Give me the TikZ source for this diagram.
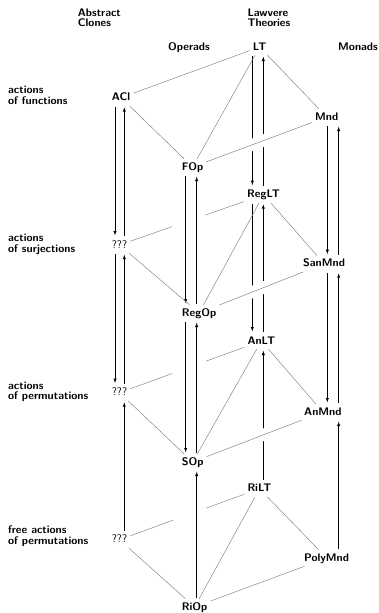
\documentclass[tikz,border=0pt]{standalone}
\usepackage{tikz}
\usetikzlibrary{arrows, positioning, calc}
\tikzstyle{arrow} = [->, >=latex, line width=0.5pt, shorten <=1pt, shorten >=1.5pt]
\tikzstyle{link} = [draw=black!55, line width=0.4pt]
\tikzstyle{front-link} = [link, preaction={draw=white, line width=12pt}]
\tikzstyle{obj} = [anchor=base west, inner sep=3pt, text height=8pt, text depth=2pt, font={\sffamily\bfseries\fontsize{11}{13}\selectfont}]
\tikzstyle{unknown} = [obj, font={\sffamily\fontsize{11}{13}\selectfont}]
\tikzstyle{hole} = [circle, minimum size=35pt, inner sep=0pt]
\tikzstyle{label} = [anchor=base west, inner sep=0pt, align=left, font={\sffamily\bfseries\fontsize{11}{10.7}\selectfont}]

\begin{document}
\begin{tikzpicture}[x=1pt, y=-1pt]
  \useasboundingbox (0, 0) rectangle (379, 613);

  % Headings
  \node[label] (clones) at (77.7, 26.7) {Abstract\\Clones};
  \node[label] (lawvere) at (247.3, 26.7) {Lawvere\\Theories};
  \node[label] (operads) at (168, 50) {Operads};
  \node[label] (monads) at (338, 50) {Monads};

  \node[label] (row_fun) at (8, 104.5) {actions\\of functions};
  \node[label] (row_surj) at (8, 252.3) {actions\\of surjections};
  \node[label] (row_perm) at (8, 399.8) {actions\\of permutations};
  \node[label] (row_free) at (8, 544) {free actions\\of permutations};

  % Abstract clones
  \node[obj] (acl) at (108.7, 100.7) {ACl};
  \node[unknown] (q_surj) at (108.7, 248) {???};
  \node[unknown] (q_perm) at (108.7, 395.7) {???};
  \node[unknown] (q_free) at (108.7, 542.7) {???};

  % Operads
  \node[obj] (f_op) at (178.7, 170) {FOp};
  \node[obj] (reg_op) at (178.7, 316) {RegOp};
  \node[obj] (s_op) at (178.7, 465) {SOp};
  \node[obj] (ri_op) at (178.7, 610) {RiOp};

  % Lawvere theories
  \node[obj] (lt) at (249.7, 50) {LT};
  \node[obj] (reg_lt) at (244, 197.7) {RegLT};
  \node[obj] (an_lt) at (244.3, 344) {AnLT};
  \node[obj] (ri_lt) at (244.3, 491.7) {RiLT};

  % Monads
  \node[obj] (mnd) at (312, 120) {Mnd};
  \node[obj] (san_mnd) at (300, 266.7) {SanMnd};
  \node[obj] (an_mnd) at (301, 415) {AnMnd};
  \node[obj] (poly_mnd) at (301, 561) {PolyMnd};

  % columns of the vertical arrows
  \coordinate (cl_down) at (115, 0);
  \coordinate (cl_up) at (124.3, 0);
  \coordinate (op_down) at (185.7, 0);
  \coordinate (op_up) at (196.7, 0);
  \coordinate (lt_down) at (252.3, 0);
  \coordinate (lt_up) at (263.3, 0);
  \coordinate (mnd_down) at (327.3, 0);
  \coordinate (mnd_up) at (338.7, 0);

  % Back edges, broken behind the operads
  \node[hole] (gap_surj) at ($(q_surj)!0.48!(reg_lt)$) {};
  \node[hole] (gap_perm) at ($(q_perm)!0.49!(an_lt)$) {};
  \node[hole] (gap_free) at ($(q_free)!0.5!(ri_lt)$) {};

  \draw[link] (q_surj) -- (gap_surj);
  \draw[link] (gap_surj) -- (reg_lt);
  \draw[link] (q_perm) -- (gap_perm);
  \draw[link] (gap_perm) -- (an_lt);
  \draw[link] (q_free) -- (gap_free);
  \draw[link] (gap_free) -- (ri_lt);

  % Vertical arrows
  \draw[arrow] (acl.south -| cl_down) -- (q_surj.north -| cl_down);
  \draw[arrow] (q_surj.north -| cl_up) -- (acl.south -| cl_up);
  \draw[arrow] (q_surj.south -| cl_down) -- (q_perm.north -| cl_down);
  \draw[arrow] (q_perm.north -| cl_up) -- (q_surj.south -| cl_up);
  \draw[arrow] (q_free.north -| cl_up) -- (q_perm.south -| cl_up);

  \draw[arrow] (f_op.south -| op_down) -- (reg_op.north -| op_down);
  \draw[arrow] (reg_op.north -| op_up) -- (f_op.south -| op_up);
  \draw[arrow] (reg_op.south -| op_down) -- (s_op.north -| op_down);
  \draw[arrow] (s_op.north -| op_up) -- (reg_op.south -| op_up);
  \draw[arrow] (ri_op.north -| op_up) -- (s_op.south -| op_up);

  \draw[arrow] (lt.south -| lt_down) -- (reg_lt.north -| lt_down);
  \draw[arrow] (reg_lt.north -| lt_up) -- (lt.south -| lt_up);
  \draw[arrow] (reg_lt.south -| lt_down) -- (an_lt.north -| lt_down);
  \draw[arrow] (an_lt.north -| lt_up) -- (reg_lt.south -| lt_up);
  \draw[arrow] (ri_lt.north -| lt_up) -- (an_lt.south -| lt_up);

  % Front edges, over the Lawvere theories
  \draw[front-link] (f_op) -- (mnd);
  \draw[front-link] (reg_op) -- (san_mnd);
  \draw[front-link] (s_op) -- (an_mnd);

  % Remaining edges
  \draw[link] (acl) -- (lt);
  \draw[link] (acl) -- (f_op);
  \draw[link] (lt) -- (f_op);
  \draw[link] (lt) -- (mnd);

  \draw[link] (q_surj) -- (reg_op);
  \draw[link] (reg_lt) -- (reg_op);
  \draw[link] (reg_lt) -- (san_mnd);

  \draw[link] (q_perm) -- (s_op);
  \draw[link] (an_lt) -- (s_op);
  \draw[link] (an_lt) -- (an_mnd);

  \draw[link] (q_free) -- (ri_op);
  \draw[link] (ri_lt) -- (ri_op);
  \draw[link] (ri_lt) -- (poly_mnd);
  \draw[link] (ri_op) -- (poly_mnd);

  \draw[arrow] (mnd.south -| mnd_down) -- (san_mnd.north -| mnd_down);
  \draw[arrow] (san_mnd.north -| mnd_up) -- (mnd.south -| mnd_up);
  \draw[arrow] (san_mnd.south -| mnd_down) -- (an_mnd.north -| mnd_down);
  \draw[arrow] (an_mnd.north -| mnd_up) -- (san_mnd.south -| mnd_up);
  \draw[arrow] (poly_mnd.north -| mnd_up) -- (an_mnd.south -| mnd_up);

\end{tikzpicture}
\end{document}
